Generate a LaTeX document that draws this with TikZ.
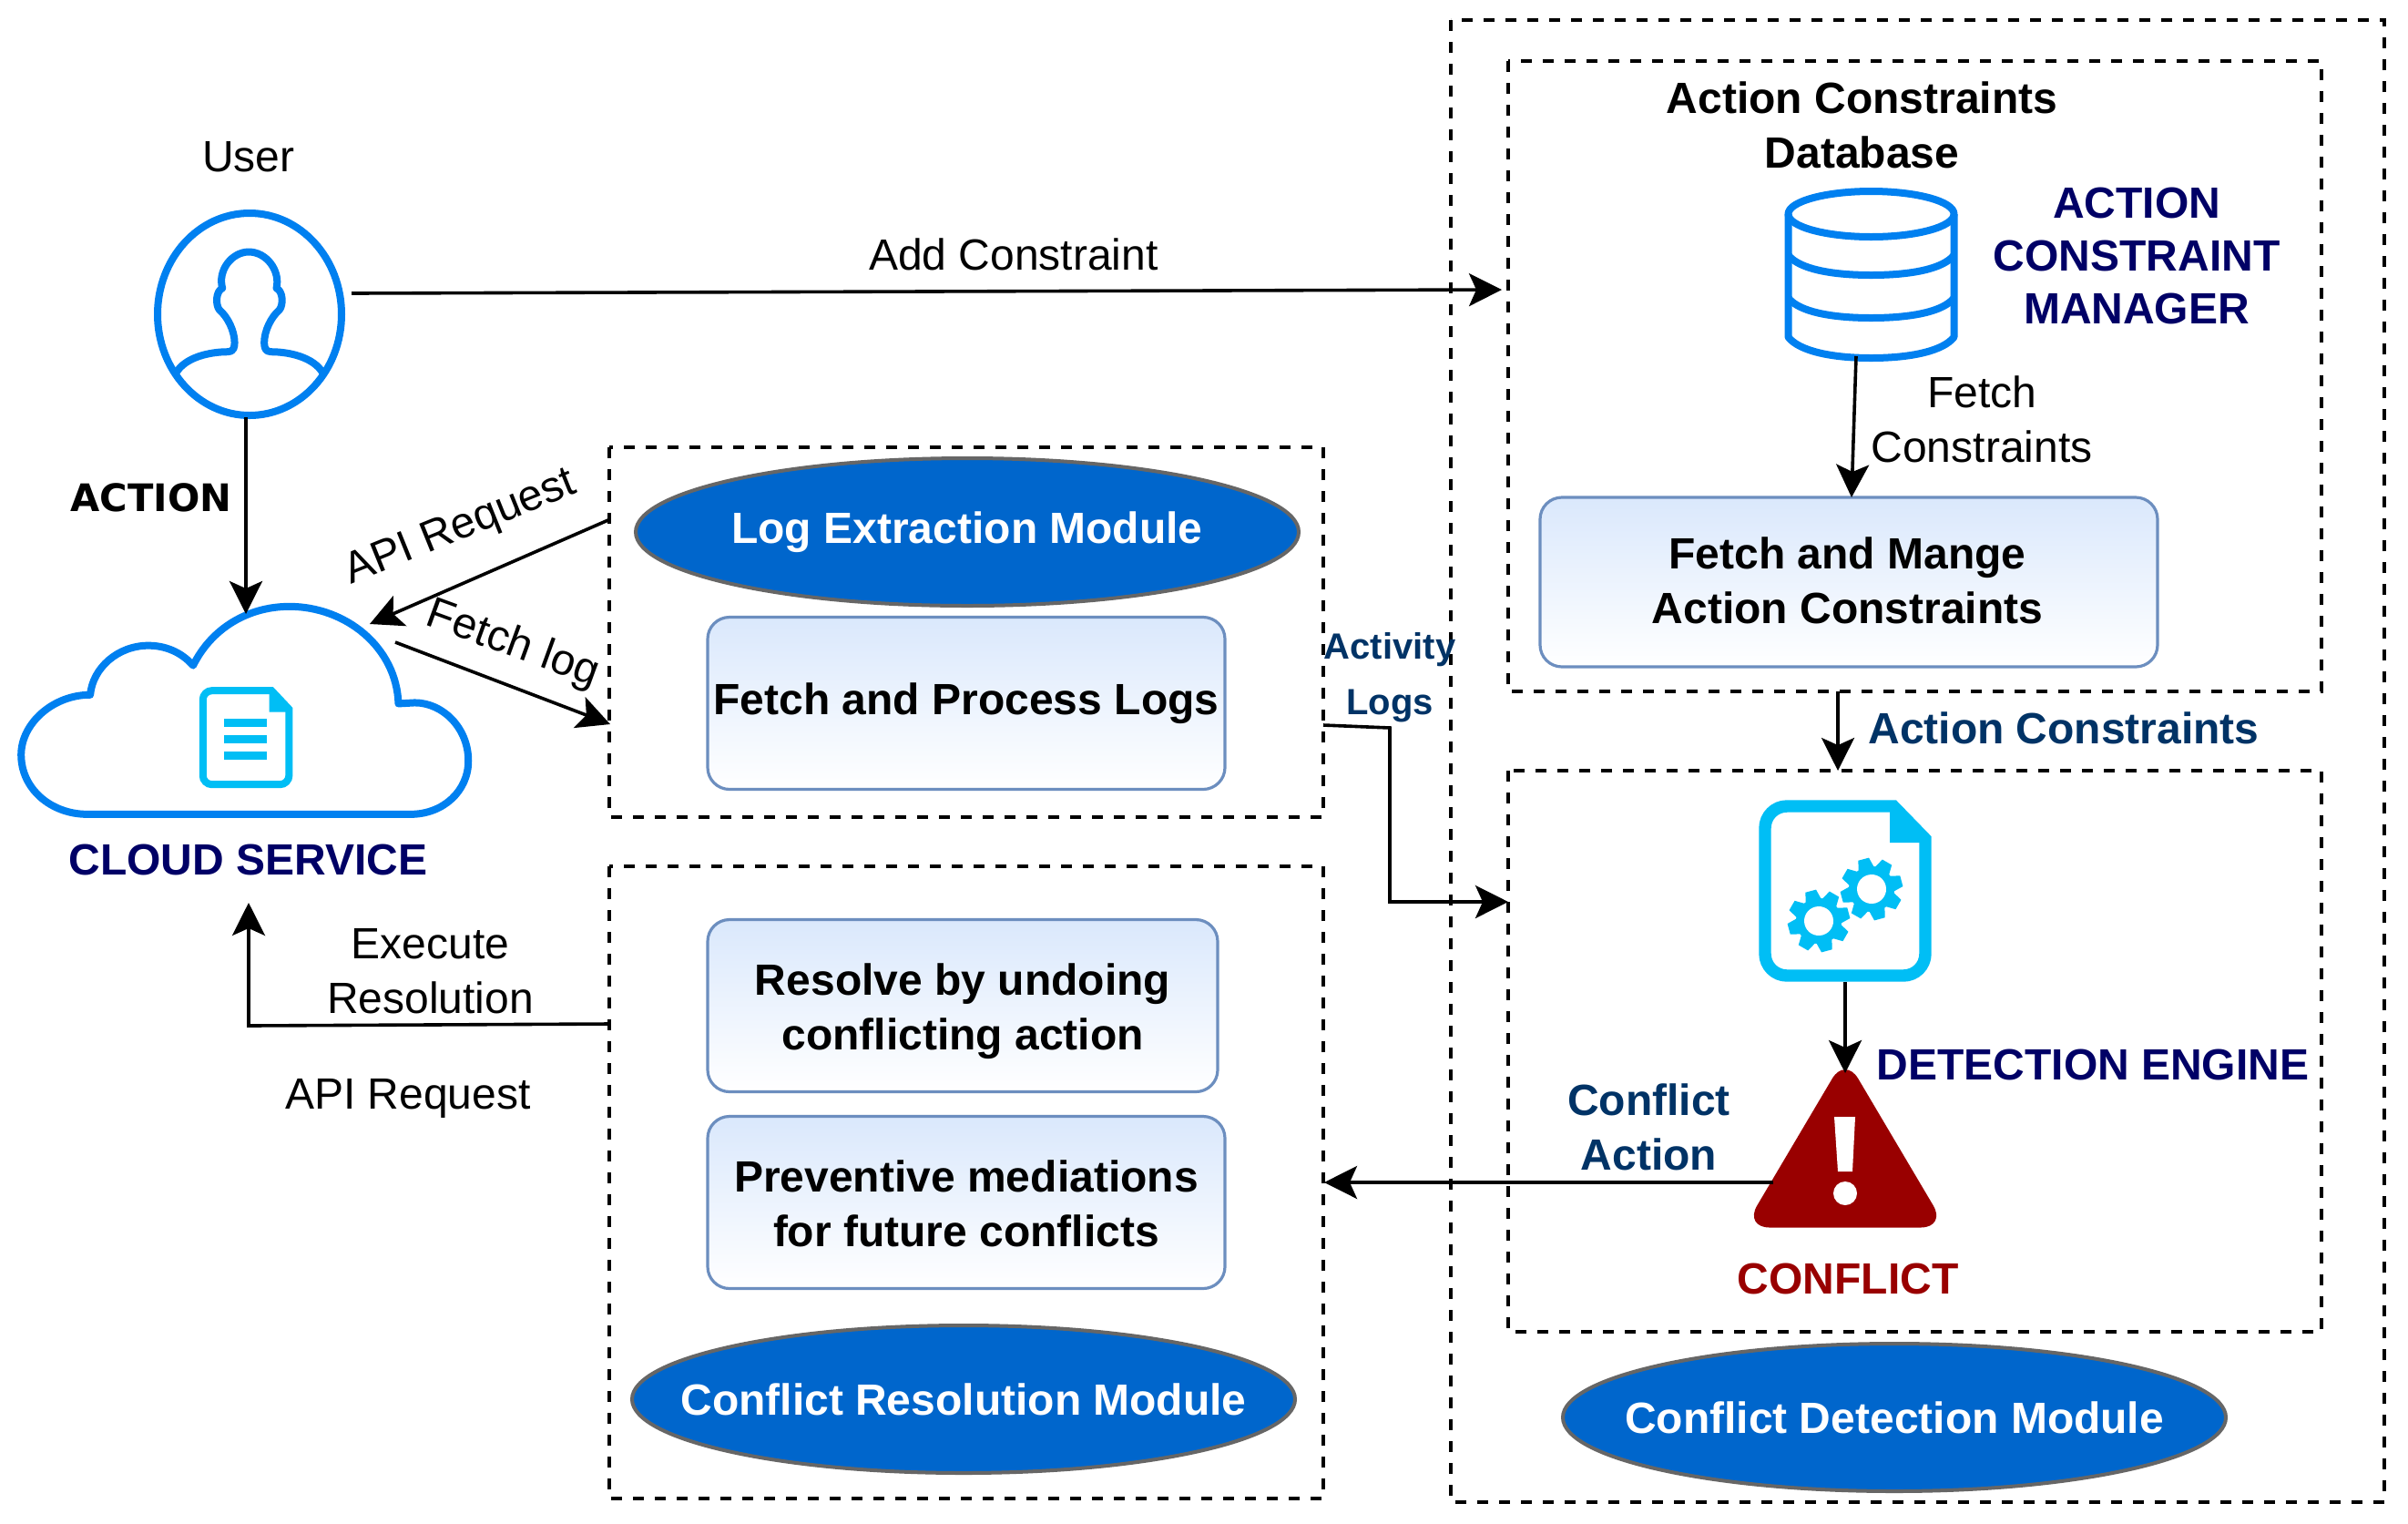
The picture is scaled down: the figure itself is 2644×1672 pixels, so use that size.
\documentclass[tikz,border=0pt]{standalone}
\usepackage{fontspec}
\setmainfont{Liberation Sans}
\newfontfamily\dejavu{DejaVu Sans}
\usetikzlibrary{arrows.meta,shapes.geometric}
\definecolor{iconblue}{HTML}{0080F0}
\definecolor{iconcyan}{HTML}{00BEF5}
\definecolor{navy}{HTML}{000066}
\definecolor{steel}{HTML}{003366}
\definecolor{alert}{HTML}{990000}
\definecolor{pillblue}{HTML}{0066CC}
\definecolor{pillline}{HTML}{666666}
\definecolor{boxtop}{HTML}{DAE8FC}
\definecolor{boxline}{HTML}{6C8EBF}
\tikzset{
  x=0.5pt,y=-0.5pt,
  dashbox/.style={draw=black,line width=2pt,dash pattern=on 6pt off 6pt},
  pill/.style={ellipse,draw=pillline,fill=pillblue,line width=2pt,inner sep=0pt,minimum width=364pt,minimum height=81pt},
  pilltext/.style={inner sep=0pt,text=white,font=\fontsize{24}{30}\selectfont\bfseries},
  softbox/.style={draw=boxline,line width=1.6pt,rounded corners=12pt,top color=boxtop,bottom color=white,inner sep=0pt},
  softtext/.style={inner sep=0pt,align=center,font=\fontsize{24}{30}\selectfont\bfseries},
  bold/.style={align=center,inner sep=0pt,font=\fontsize{24}{30}\selectfont\bfseries},
  plain/.style={align=center,inner sep=0pt,font=\fontsize{24}{30}\selectfont},
  link/.style={draw=black,line width=1.8pt,-{Stealth[length=18pt,width=18pt,inset=4pt]}},
  iconline/.style={draw=iconblue,line width=4pt,line join=round},
}
\newcommand{\gearat}[2]{%
  \begin{scope}[shift={(#1,#2)},rotate=15]
    \fill[iconcyan] (0,0) circle[radius=12.5pt];
    \foreach \a in {0,45,...,315}{
      \fill[iconcyan,rotate=\a] (-9,-22) -- (-6,-34) -- (6,-34) -- (9,-22) -- cycle;
    }
    \fill[white] (0,0) circle[radius=8pt];
  \end{scope}}
\begin{document}
\begin{tikzpicture}
\useasboundingbox (0,0) rectangle (2644,1672);
\fill[white] (0,0) rectangle (2644,1672);

% dashed boxes
\draw[dashbox] (1593,22) rectangle (2618,1649);
\draw[dashbox] (1656,67) rectangle (2549,759);
\draw[dashbox] (1656,846) rectangle (2549,1462);
\draw[dashbox] (669,491) rectangle (1453,897);
\draw[dashbox] (669,951) rectangle (1453,1645);

% pills
\node[pill,label={[pilltext]center:Log Extraction Module}] (logpill) at (1062,584) {};
\node[pill,label={[pilltext]center:Conflict Resolution Module}] (respill) at (1058,1536) {};
\node[pill,label={[pilltext]center:Conflict Detection Module}] (detpill) at (2080,1556) {};

% boxes
\node[softbox,minimum width=284pt,minimum height=94.5pt,label={[softtext]center:Fetch and Process Logs}] (fetchlogs) at (1061,772) {};
\node[softbox,minimum width=280pt,minimum height=94.5pt,label={[softtext,yshift=-3pt]center:{Resolve by undoing\\conflicting action}}] (undo) at (1057,1104) {};
\node[softbox,minimum width=284pt,minimum height=94.5pt,label={[softtext,yshift=-0.6pt]center:{Preventive mediations\\for future conflicts}}] (prevent) at (1061,1320) {};
\node[softbox,minimum width=339pt,minimum height=93pt,label={[softtext,yshift=0.8pt,xshift=-0.8pt]center:{Fetch and Mange\\Action Constraints}}] (manage) at (2030,639) {};

% user icon
\draw[iconblue,line width=4pt,fill=white] (274,345) ellipse[x radius=101,y radius=111];
\begin{scope}[shift={(0,200)},xscale=0.4464,yscale=0.5102]
  \draw[iconline] (432,412) .. controls (455,375) and (520,365) .. (560,365)
    .. controls (575,365) and (577,355) .. (577,345)
    .. controls (577,320) and (560,290) .. (540,275)
    .. controls (530,265) and (530,235) .. (547,228)
    .. controls (535,190) and (570,150) .. (612,150)
    .. controls (655,150) and (690,190) .. (680,228)
    .. controls (697,235) and (697,265) .. (687,275)
    .. controls (667,290) and (650,320) .. (650,345)
    .. controls (650,355) and (652,365) .. (667,365)
    .. controls (707,365) and (772,375) .. (795,412);
  % cloud
  \draw[iconline,fill=white] (215,1360) -- (1010,1360)
    .. controls (1090,1360) and (1152,1310) .. (1152,1245)
    .. controls (1152,1175) and (1090,1120) .. (1020,1120)
    -- (980,1122)
    .. controls (975,1000) and (850,913) .. (712,913)
    .. controls (610,913) and (520,960) .. (475,1040)
    .. controls (445,1010) and (405,997) .. (365,997)
    .. controls (290,997) and (228,1045) .. (222,1103)
    .. controls (130,1103) and (52,1165) .. (52,1232)
    .. controls (52,1305) and (125,1360) .. (215,1360) -- cycle;
  % small document
  \draw[iconcyan,line width=4pt,line join=miter] (605,1296) [rounded corners=5pt] -- (499,1296) -- (499,1094) [sharp corners] -- (668,1094) -- (711,1134) [rounded corners=5pt] -- (711,1296) -- cycle;
  \fill[iconcyan] (662,1094) -- (662,1140) -- (711,1140) -- (711,1134) -- (668,1094) -- cycle;
  \fill[iconcyan] (550,1155) rectangle (657,1173);
  \fill[iconcyan] (550,1190) rectangle (657,1208);
  \fill[iconcyan] (550,1225) rectangle (657,1243);
\end{scope}

% database
\begin{scope}[iconline]
  \draw (2054.5,235) ellipse[x radius=91,y radius=25];
  \draw (1963.5,235) -- (1963.5,370) .. controls (1975,385) and (2010,393) .. (2054.5,393) .. controls (2099,393) and (2134,385) .. (2145.5,370) -- (2145.5,235);
  \draw (1963.5,280) .. controls (1975,295) and (2010,302) .. (2054.5,302) .. controls (2099,302) and (2134,295) .. (2145.5,280);
  \draw (1963.5,327) .. controls (1975,342) and (2010,349) .. (2054.5,349) .. controls (2099,349) and (2134,342) .. (2145.5,327);
\end{scope}

% gear document
\draw[iconcyan,line width=6.7pt] (2026,1071) [rounded corners=12pt] -- (1938,1071) -- (1938,885) [sharp corners] -- (2079,885) -- (2114,921) [rounded corners=12pt] -- (2114,1071) -- cycle;
\fill[iconcyan] (2075,885) -- (2075,925) -- (2114,925) -- (2114,921) -- (2079,885) -- cycle;
\gearat{1997}{1011}
\gearat{2055}{976}

% warning triangle
\fill[alert,rounded corners=14pt] (2026,1160) -- (2137,1347.5) -- (1915,1347.5) -- cycle;
\fill[white] (2014,1226) -- (2037,1226) -- (2034,1286) -- (2018,1286) -- cycle;
\fill[white] (2026,1310) ellipse[x radius=13,y radius=13];

% labels
\node[plain] (userlabel) at (273,172) {User};
\node[inner sep=0pt,font=\fontsize{20.8}{24}\selectfont\dejavu\bfseries] (actionlabel) at (166,546.5) {ACTION};
\node[bold,text=navy] (cloudlabel) at (272.5,944) {CLOUD SERVICE};
\node[plain,rotate=22] (apilabel) at (506,580) {API Request};
\node[plain,rotate=-20] (fetchloglabel) at (563,708) {Fetch log};
\node[plain] (execlabel) at (472.5,1066) {Execute\\Resolution};
\node[plain] (apilabelb) at (448,1206) {API Request};
\node[plain] (addlabel) at (1113,279) {Add Constraint};
\node[align=center,inner sep=0pt,text=steel,font=\fontsize{20}{30.5}\selectfont\bfseries] (activitylabel) at (1526,744) {Activity\\Logs};
\node[bold] (dblabel) at (2044.5,137) {Action Constraints\\Database};
\node[bold,text=navy,font=\fontsize{24}{29}\selectfont\bfseries] (managerlabel) at (2346,281) {ACTION\\CONSTRAINT\\MANAGER};
\node[plain] (fetchclabel) at (2176,460.5) {Fetch\\Constraints};
\node[bold,text=steel] (aclabel) at (2266,799) {Action Constraints};
\node[bold,text=navy] (enginelabel) at (2298,1169) {DETECTION ENGINE};
\node[bold,text=steel] (caction) at (1810.5,1237) {Conflict\\Action};
\node[bold,text=alert] (conflictlabel) at (2029,1404) {CONFLICT};

% connector anchors
\coordinate (userR) at (386,322);
\coordinate (cmL) at (1649,318);
\coordinate (userB) at (270,458);
\coordinate (cloudT) at (270,674);
\coordinate (logL) at (670,570);
\coordinate (cloudR) at (406,685);
\coordinate (cloudRb) at (434,705);
\coordinate (logLb) at (670,795);
\coordinate (logR) at (1453,796);
\coordinate (detL) at (1656,990);
\coordinate (resL) at (669,1124);
\coordinate (cloudB) at (273,991);
\coordinate (trL) at (1947,1298);
\coordinate (resR) at (1454,1298);
\coordinate (dbB) at (2038,391);
\coordinate (manT) at (2033,546);
\coordinate (acB) at (2018,759);
\coordinate (detT) at (2018,846);
\coordinate (docB) at (2026,1078);
\coordinate (trT) at (2026,1178);

% connectors
\draw[link] (userR) -- (cmL);
\draw[link] (userB) -- (cloudT);
\draw[link] (logL) -- (cloudR);
\draw[link] (cloudRb) -- (logLb);
\draw[link] (logR) -- (1526,799) -- (1526,990) -- (detL);
\draw[link] (resL) -- (273,1126) -- (cloudB);
\draw[link] (trL) -- (resR);
\draw[link] (dbB) -- (manT);
\draw[link] (acB) -- (detT);
\draw[link] (docB) -- (trT);
\end{tikzpicture}
\end{document}
